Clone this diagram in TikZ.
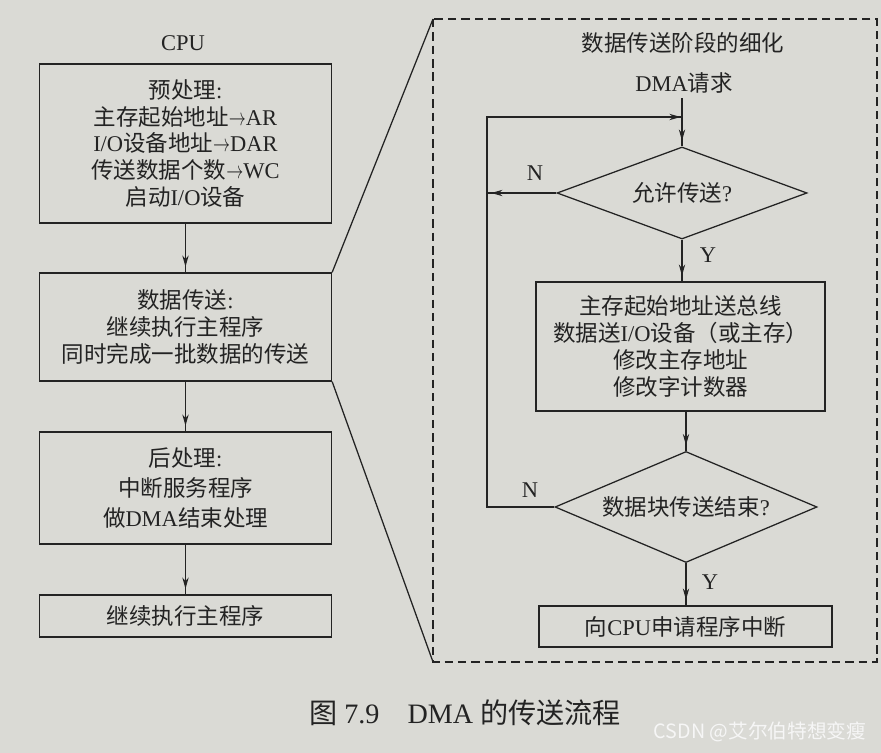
\documentclass[tikz,border=0pt]{standalone}
\usepackage{fontspec}
\setmainfont{Liberation Serif}
\newfontfamily\cjkfont{Noto Sans CJK SC}
% switch to the CJK font for Chinese characters
\XeTeXinterchartokenstate=1
\newXeTeXintercharclass\cjkclass
\count255="4E00
\loop
  \XeTeXcharclass\count255=\cjkclass
  \ifnum\count255<"9FFF \advance\count255 by 1
\repeat
\count255="3000
\loop
  \XeTeXcharclass\count255=\cjkclass
  \ifnum\count255<"303F \advance\count255 by 1
\repeat
\count255="FF00
\loop
  \XeTeXcharclass\count255=\cjkclass
  \ifnum\count255<"FF5F \advance\count255 by 1
\repeat
\XeTeXinterchartoks 0 \cjkclass={\begingroup\cjkfont}
\XeTeXinterchartoks 4095 \cjkclass={\begingroup\cjkfont}
\XeTeXinterchartoks \cjkclass 0={\endgroup}
\XeTeXinterchartoks \cjkclass 4095={\endgroup}
\usepackage{tikz}
\usetikzlibrary{shapes.geometric,arrows.meta,decorations.markings}
\definecolor{ink}{RGB}{35,35,35}
\definecolor{paper}{RGB}{218,218,213}
\definecolor{wmark}{RGB}{246,246,246}
\newcommand{\toarrow}{\scalebox{0.7}[1]{$\rightarrow$}}
\tikzset{
  box/.style={draw=ink, line width=0.9pt, rectangle, align=center, inner sep=0pt, text=ink, font={\fontsize{16pt}{19pt}\selectfont}},
  decision/.style={draw=ink, line width=0.9pt, diamond, align=center, inner sep=0pt, text=ink, font={\fontsize{16pt}{19pt}\selectfont}},
  lbl/.style={text=ink, font={\fontsize{16pt}{19pt}\selectfont}},
  flow/.style={draw=ink, line width=0.9pt, postaction={decorate},
    decoration={markings, mark=at position -#1 with {\arrow{Stealth[length=8pt,width=4.5pt]}}}},
  flow/.default=4pt
}
\begin{document}
\begin{tikzpicture}[x=0.025cm, y=-0.025cm]
  \fill[paper] (0,0) rectangle (881,753);
  \useasboundingbox (0,0) rectangle (881,753);

  % CPU side
  \node[lbl] (cpu) at (183,43) {CPU};
  \node[box, minimum width=7.3cm, minimum height=3.975cm] (pre) at (185.5,143.5)
    {预处理:\\主存起始地址\toarrow AR\\I/O设备地址\toarrow DAR\\传送数据个数\toarrow WC\\启动I/O设备};
  \node[box, minimum width=7.3cm, minimum height=2.7cm] (xfer) at (185.5,327)
    {数据传送:\\继续执行主程序\\同时完成一批数据的传送};
  \node[box, minimum width=7.3cm, minimum height=2.8cm, font={\fontsize{16pt}{21.5pt}\selectfont}] (post) at (185.5,488)
    {后处理:\\中断服务程序\\做DMA结束处理};
  \node[box, minimum width=7.3cm, minimum height=1.05cm] (resume) at (185.5,616) {继续执行主程序};

  \draw[flow] (pre) -- (xfer);
  \draw[flow] (xfer) -- (post);
  \draw[flow] (post) -- (resume);

  % dashed frame and its zoom lines
  \coordinate (fnw) at (433,19);
  \coordinate (fse) at (877,662);
  \coordinate (fsw) at (433,662);
  \draw[ink, line width=0.9pt, dash pattern=on 6pt off 3.5pt] (fnw) rectangle (fse);
  \draw[ink, line width=0.9pt] (xfer.north east) -- (fnw);
  \draw[ink, line width=0.9pt] (xfer.south east) -- (fsw);

  % data transfer in detail
  \node[lbl] (title) at (683,43) {数据传送阶段的细化};
  \node[lbl] (req) at (684,83) {DMA请求};
  \node[decision, shape aspect=2.7, minimum width=6.25cm, minimum height=2.3cm] (ok) at (682,193) {允许传送?};
  \node[box, minimum width=7.225cm, minimum height=3.225cm] (move) at (680.5,346.5)
    {主存起始地址送总线\\数据送I/O设备（或主存）\\修改主存地址\\修改字计数器};
  \node[decision, shape aspect=2.36, minimum width=6.55cm, minimum height=2.775cm] (done) at (686,507) {数据块传送结束?};
  \node[box, minimum width=7.325cm, minimum height=1.025cm] (irq) at (685.5,626.5) {向CPU申请程序中断};

  \coordinate (loopb) at (487,507);
  \coordinate (loopt) at (487,117);
  \coordinate (join) at (682,117);

  \draw[flow] (req.south -| ok.north) -- (ok.north);
  \draw[flow] (ok.south) -- (ok.south |- move.north);
  \draw[flow=3pt] (ok.west) -- (ok.west -| loopb);
  \draw[flow] (done.north |- move.south) -- (done.north);
  \draw[flow] (done.south) -- (done.south |- irq.north);
  \draw[flow=1pt] (done.west) -- (loopb) -- (loopt) -- (join);

  \node[lbl] (n1) at (535,173) {N};
  \node[lbl] (y1) at (708,255) {Y};
  \node[lbl] (n2) at (530,490) {N};
  \node[lbl] (y2) at (710,582) {Y};

  % caption
  \node[text=ink, font={\fontsize{20pt}{24pt}\selectfont}] (cap) at (465,713) {图 7.9\quad DMA 的传送流程};
  \node[text=wmark, font={\cjkfont\fontsize{14pt}{16pt}\selectfont}] (wm) at (760,732) {CSDN @艾尔伯特想变瘦};
\end{tikzpicture}
\end{document}
